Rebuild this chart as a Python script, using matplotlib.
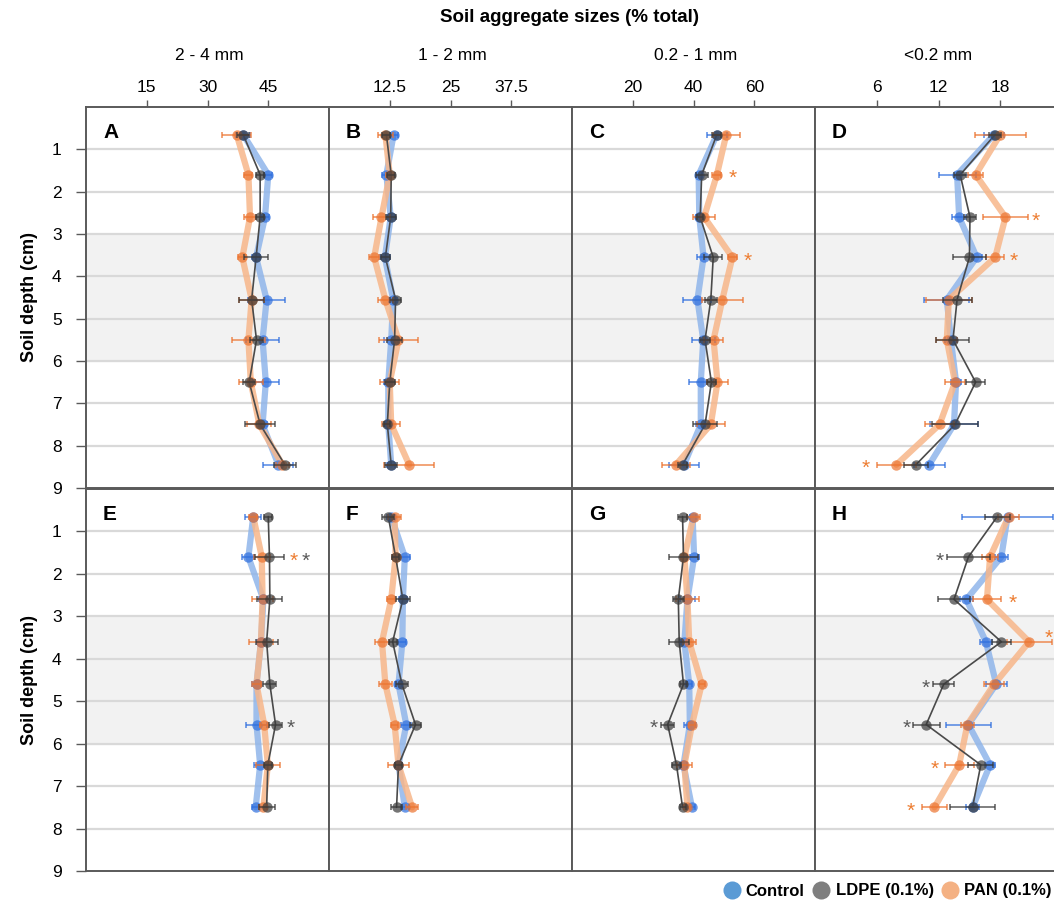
import matplotlib
matplotlib.use('Agg')
import matplotlib.pyplot as plt
from matplotlib.lines import Line2D
import numpy as np

plt.rcParams['font.family'] = ['Liberation Sans', 'DejaVu Sans']

# sampling depths (cm) for the two rows of panels
DEPTH_TOP = [0.65, 1.6, 2.6, 3.55, 4.55, 5.5, 6.5, 7.5, 8.45]
DEPTH_BOTTOM = [0.65, 1.6, 2.6, 3.6, 4.6, 5.55, 6.5, 7.5]

SIZE_CLASSES = ['2 - 4 mm', '1 - 2 mm', '0.2 - 1 mm', '<0.2 mm']
X_LIMITS = [(0, 60), (0, 50), (0, 80), (0, 23.6)]
X_TICKS = [[15, 30, 45], [12.5, 25, 37.5], [20, 40, 60], [6, 12, 18]]
X_TICKLABELS = [['15', '30', '45'], ['12.5', '25', '37.5'], ['20', '40', '60'], ['6', '12', '18']]

# panel A (2-4 mm, top)
CTRL_A = [38.8, 45.0, 44.2, 42.0, 44.6, 43.6, 44.4, 43.6, 47.5]
CTRL_A_ERR = [1.8, 1.0, 1.0, 1.0, 4.5, 4.1, 3.2, 1.0, 3.7]
LDPE_A = [38.8, 43.0, 43.0, 42.0, 40.9, 42.1, 40.3, 43.0, 49.1]
LDPE_A_ERR = [1.5, 1.0, 1.0, 3.0, 3.0, 1.5, 1.5, 3.7, 2.7]
PAN_A = [37.2, 40.1, 40.5, 38.6, 40.9, 40.1, 40.7, 42.8, 48.5]
PAN_A_ERR = [3.5, 1.0, 1.5, 1.0, 3.0, 4.1, 3.0, 3.0, 1.5]

# panel B (1-2 mm, top)
CTRL_B = [13.3, 11.8, 12.7, 11.5, 13.2, 12.8, 12.2, 12.2, 12.8]
CTRL_B_ERR = [0.8, 0.8, 0.8, 1.0, 0.8, 1.5, 0.8, 0.6, 0.8]
LDPE_B = [11.8, 12.8, 12.7, 11.6, 13.7, 13.5, 12.5, 12.0, 12.8]
LDPE_B_ERR = [0.8, 0.8, 1.0, 1.0, 1.2, 1.5, 1.0, 0.6, 1.2]
PAN_B = [11.6, 12.5, 10.8, 9.3, 11.6, 14.3, 12.5, 12.8, 16.5]
PAN_B_ERR = [1.5, 0.8, 1.7, 1.0, 1.5, 4.0, 2.0, 1.8, 5.1]

# panel C (0.2-1 mm, top)
CTRL_C = [47.7, 41.7, 41.9, 43.3, 41.3, 43.2, 42.4, 42.4, 36.9]
CTRL_C_ERR = [3.4, 1.0, 1.0, 2.0, 4.6, 3.8, 4.0, 1.5, 4.9]
LDPE_C = [47.7, 42.7, 42.2, 46.5, 45.7, 43.8, 45.9, 43.8, 36.4]
LDPE_C_ERR = [1.5, 2.0, 1.0, 3.0, 2.0, 1.5, 1.5, 4.0, 1.5]
PAN_C = [50.8, 47.7, 43.5, 52.8, 49.5, 46.6, 47.9, 45.7, 34.2]
PAN_C_ERR = [4.4, 1.5, 3.6, 1.5, 6.8, 3.0, 3.5, 4.7, 4.6]

# panel D (<0.2 mm, top)
CTRL_D = [17.4, 13.8, 14.0, 15.7, 12.8, 13.2, 13.7, 13.5, 11.1]
CTRL_D_ERR = [1.0, 1.8, 0.7, 0.5, 2.2, 0.6, 0.5, 2.3, 1.5]
LDPE_D = [17.5, 14.1, 15.05, 15.0, 13.8, 13.4, 15.6, 13.6, 9.8]
LDPE_D_ERR = [0.6, 0.6, 0.6, 1.6, 1.4, 1.6, 0.9, 2.2, 1.2]
PAN_D = [18.0, 15.6, 18.5, 17.5, 13.0, 12.8, 13.6, 12.1, 7.9]
PAN_D_ERR = [2.5, 0.7, 2.2, 0.9, 2.2, 1.0, 1.0, 1.4, 1.9]

# panel E (2-4 mm, bottom)
CTRL_E = [41.3, 40.1, 43.8, 43.2, 42.1, 42.1, 43.0, 41.9]
CTRL_E_ERR = [2.0, 1.5, 1.0, 1.0, 1.0, 2.5, 1.5, 0.8]
LDPE_E = [45.0, 45.3, 45.4, 44.6, 45.4, 46.8, 44.9, 44.6]
LDPE_E_ERR = [1.0, 3.6, 3.1, 2.7, 1.6, 1.6, 1.0, 2.0]
PAN_E = [41.3, 43.4, 43.6, 43.2, 42.1, 44.0, 44.9, 43.8]
PAN_E_ERR = [1.0, 2.0, 2.5, 3.0, 1.0, 1.0, 3.0, 1.0]

# panel F (1-2 mm, bottom)
CTRL_F = [12.8, 15.6, 15.2, 15.1, 14.3, 15.9, 14.3, 15.6]
CTRL_F_ERR = [0.8, 1.0, 0.8, 0.8, 0.8, 1.0, 0.8, 0.8]
LDPE_F = [12.2, 13.7, 15.2, 13.1, 15.0, 17.8, 14.3, 13.9]
LDPE_F_ERR = [1.2, 0.8, 1.5, 0.8, 1.2, 1.2, 0.8, 1.2]
PAN_F = [13.5, 13.7, 12.8, 10.9, 11.6, 13.5, 14.3, 17.1]
PAN_F_ERR = [1.3, 0.8, 0.8, 1.5, 1.3, 0.8, 2.2, 1.2]

# panel G (0.2-1 mm, bottom)
CTRL_G = [39.7, 40.2, 38.0, 37.0, 38.6, 38.8, 36.7, 39.5]
CTRL_G_ERR = [1.0, 1.5, 2.5, 1.0, 1.0, 2.0, 1.0, 1.0]
LDPE_G = [36.4, 36.7, 35.0, 35.3, 36.7, 31.5, 34.4, 36.4]
LDPE_G_ERR = [1.5, 4.9, 1.8, 3.3, 1.0, 2.2, 1.5, 1.0]
PAN_G = [40.0, 37.0, 38.0, 38.6, 42.7, 39.5, 37.0, 38.0]
PAN_G_ERR = [2.2, 1.0, 3.8, 2.2, 1.0, 1.0, 2.5, 1.0]

# panel H (<0.2 mm, bottom)
CTRL_H = [18.7, 18.1, 14.7, 16.6, 17.6, 14.9, 17.0, 15.3]
CTRL_H_ERR = [4.4, 0.6, 0.6, 0.6, 1.0, 2.2, 0.5, 0.6]
LDPE_H = [17.7, 14.9, 13.5, 18.1, 12.5, 10.8, 16.1, 15.3]
LDPE_H_ERR = [1.2, 2.1, 1.6, 0.9, 1.0, 1.3, 1.2, 2.2]
PAN_H = [18.8, 17.0, 16.7, 20.8, 17.4, 14.8, 14.0, 11.6]
PAN_H_ERR = [1.0, 0.8, 1.4, 2.2, 1.0, 0.6, 1.4, 1.2]

# significance stars: panel, series, depth index, offset in pixels from the point
STARS = [
    ('C', 'pan', 1, 16, 0), ('C', 'pan', 3, 15, 0),
    ('D', 'pan', 2, 30, 0), ('D', 'pan', 3, 18, 0), ('D', 'pan', 8, -31, 0),
    ('E', 'pan', 1, 32, 0), ('E', 'ldpe', 1, 36, 0), ('E', 'ldpe', 5, 15, 0),
    ('G', 'ldpe', 5, -14, 0),
    ('H', 'ldpe', 1, -29, 0), ('H', 'pan', 2, 26, 0), ('H', 'pan', 3, 20, 7),
    ('H', 'ldpe', 4, -18, 0), ('H', 'ldpe', 5, -20, 0),
    ('H', 'pan', 6, -24, 0), ('H', 'pan', 7, -24, 0),
]

PANELS = {
    'A': (CTRL_A, CTRL_A_ERR, LDPE_A, LDPE_A_ERR, PAN_A, PAN_A_ERR),
    'B': (CTRL_B, CTRL_B_ERR, LDPE_B, LDPE_B_ERR, PAN_B, PAN_B_ERR),
    'C': (CTRL_C, CTRL_C_ERR, LDPE_C, LDPE_C_ERR, PAN_C, PAN_C_ERR),
    'D': (CTRL_D, CTRL_D_ERR, LDPE_D, LDPE_D_ERR, PAN_D, PAN_D_ERR),
    'E': (CTRL_E, CTRL_E_ERR, LDPE_E, LDPE_E_ERR, PAN_E, PAN_E_ERR),
    'F': (CTRL_F, CTRL_F_ERR, LDPE_F, LDPE_F_ERR, PAN_F, PAN_F_ERR),
    'G': (CTRL_G, CTRL_G_ERR, LDPE_G, LDPE_G_ERR, PAN_G, PAN_G_ERR),
    'H': (CTRL_H, CTRL_H_ERR, LDPE_H, LDPE_H_ERR, PAN_H, PAN_H_ERR),
}

STYLE = {
    'ctrl': dict(line='#8fb5ea', lw=4.5, lalpha=0.85, mark='#2f6fde', err='#2f6fde'),
    'pan': dict(line='#f7b68a', lw=4.5, lalpha=0.85, mark='#ec7430', err='#ec7430'),
    'ldpe': dict(line='#4a4a4a', lw=1.2, lalpha=1.0, mark='#3a3a3a', err='#3a3a3a'),
}
STAR_COLOR = {'pan': '#ed7d31', 'ldpe': '#595959', 'ctrl': '#2f6fde'}

W, H = 1054, 907
fig = plt.figure(figsize=(W / 100, H / 100), dpi=100)

col_left = [86, 329, 572, 815]
col_w = 243
rows = [(107, 488), (489, 871)]
letters = [['A', 'B', 'C', 'D'], ['E', 'F', 'G', 'H']]
depths = [DEPTH_TOP, DEPTH_BOTTOM]

for r, (top, bot) in enumerate(rows):
    for c in range(4):
        key = letters[r][c]
        ax = fig.add_axes([col_left[c] / W, 1 - bot / H, col_w / W, (bot - top) / H])
        ax.set_xlim(*X_LIMITS[c])
        ax.set_ylim(9, 0)
        ax.axhspan(3, 6, color='#f2f2f2', zorder=0)
        for d in range(1, 9):
            ax.axhline(d, color='#d9d9d9', lw=1.6, zorder=0.5)

        ctrl, ctrl_e, ldpe, ldpe_e, pan, pan_e = PANELS[key]
        y = np.array(depths[r])
        series = {'ctrl': (ctrl, ctrl_e), 'pan': (pan, pan_e), 'ldpe': (ldpe, ldpe_e)}
        for z, name in enumerate(['ctrl', 'pan', 'ldpe']):
            vals, errs = series[name]
            st = STYLE[name]
            ax.plot(vals, y, color=st['line'], lw=st['lw'], alpha=st['lalpha'],
                    solid_capstyle='round', zorder=2 + z)
            ax.errorbar(vals, y, xerr=errs, fmt='o', ms=7.5, mfc=st['mark'], mec='none',
                        alpha=0.7, ecolor=st['err'], elinewidth=1.3, capsize=2.5,
                        capthick=1.3, zorder=5 + z)

        for (p, s, i, dx, dy) in STARS:
            if p != key:
                continue
            vals = series[s][0]
            ax.annotate('*', (vals[i], y[i]), xytext=(dx, dy - 4), textcoords='offset pixels',
                        ha='center', va='center', fontsize=15, color=STAR_COLOR[s],
                        annotation_clip=False, zorder=10)

        ax.text(17 / col_w, 1 - 25 / (bot - top), key, transform=ax.transAxes,
                fontsize=15, fontweight='bold', ha='left', va='center')

        for sp in ax.spines.values():
            sp.set_color('#5a5a5a')
            sp.set_linewidth(1.4)

        if r == 0:
            ax.xaxis.tick_top()
            ax.set_xticks(X_TICKS[c])
            ax.set_xticklabels(X_TICKLABELS[c])
            ax.tick_params(axis='x', direction='out', length=5, width=1, color='#5a5a5a',
                           labelsize=12.5, pad=4)
        else:
            ax.set_xticks([])

        if c == 0:
            ax.set_yticks(range(1, 10))
            ax.tick_params(axis='y', direction='out', length=7, width=1, color='#5a5a5a',
                           labelsize=12.5, pad=14)
            for lab in ax.get_yticklabels():
                lab.set_horizontalalignment('center')
        else:
            ax.set_yticks([])

# headers
fig.text(570 / W, 1 - 18 / H, 'Soil aggregate sizes (% total)', ha='center', va='center',
         fontsize=13.5, fontweight='bold')
for c, name in enumerate(SIZE_CLASSES):
    fig.text((col_left[c] + col_w / 2 + 2) / W, 1 - 55 / H, name, ha='center', va='center',
             fontsize=12.5)

for (top, bot) in rows:
    fig.text(29 / W, 1 - (top + bot) / 2 / H, 'Soil depth (cm)', rotation=90,
             ha='center', va='center', fontsize=13, fontweight='bold')

handles = [
    Line2D([], [], ls='none', marker='o', ms=13, mfc='#5b9bd5', mec='none', label='Control'),
    Line2D([], [], ls='none', marker='o', ms=13, mfc='#7f7f7f', mec='none', label='LDPE (0.1%)'),
    Line2D([], [], ls='none', marker='o', ms=13, mfc='#f4b183', mec='none', label='PAN (0.1%)'),
]
fig.legend(handles=handles, loc='center right', bbox_to_anchor=(1052 / W, 1 - 891 / H),
           ncol=3, frameon=False, handletextpad=0.35, columnspacing=0.5, handlelength=1.0,
           prop={'weight': 'bold', 'size': 12}, borderaxespad=0, borderpad=0)

fig.savefig('out.png', dpi=100)
